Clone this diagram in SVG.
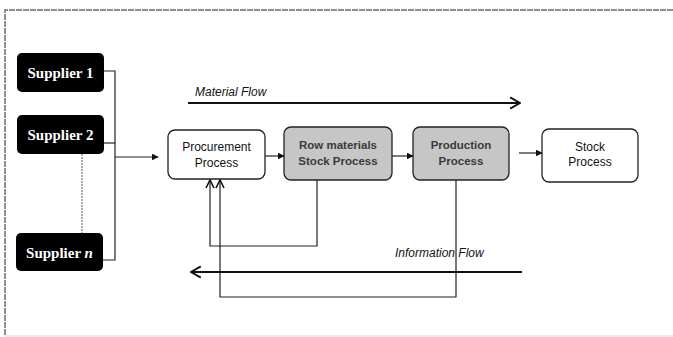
<svg xmlns="http://www.w3.org/2000/svg" width="673" height="337" viewBox="0 0 673 337">
  <defs>
    <marker id="tri" viewBox="0 0 10 10" refX="9" refY="5" markerWidth="7" markerHeight="7" markerUnits="userSpaceOnUse" orient="auto">
      <path d="M0,0 L10,5 L0,10 z" fill="#111"/>
    </marker>
    <marker id="open" viewBox="0 0 10 10" refX="9" refY="5" markerWidth="10" markerHeight="10" markerUnits="userSpaceOnUse" orient="auto">
      <path d="M1,1 L9,5 L1,9" fill="none" stroke="#111" stroke-width="1.6"/>
    </marker>
    <marker id="bigopen" viewBox="0 0 10 10" refX="9" refY="5" markerWidth="14" markerHeight="14" markerUnits="userSpaceOnUse" orient="auto">
      <path d="M2,1 L9,5 L2,9" fill="none" stroke="#111" stroke-width="1.4"/>
    </marker>
  </defs>
  <style>
    .frame { fill: none; stroke: #6a6a6a; stroke-width: 1.5; stroke-dasharray: 6 1; }
    .sup rect { fill: #000; }
    .sup text { font-family: "Liberation Serif", serif; font-weight: bold; font-size: 15px; fill: #fff; text-anchor: middle; }
    .proc rect { stroke: #222; stroke-width: 1.3; }
    .proc text { font-family: "Liberation Sans", Arial, sans-serif; font-size: 12px; fill: #111; text-anchor: middle; }
    .white rect { fill: #fff; }
    .grey rect { fill: #c6c6c6; }
    .grey text { fill: #3a3a3a; font-weight: bold; font-size: 11.5px; }
    .wire { fill: none; stroke: #222; stroke-width: 1.2; }
    .flow { fill: none; stroke: #111; stroke-width: 2; }
    .label { font-family: "Liberation Sans", Arial, sans-serif; font-style: italic; font-size: 12px; fill: #111; }
  </style>

  <rect width="673" height="337" fill="#fff"/>
  <!-- outer frame (top, left, bottom only) -->
  <path class="frame" d="M673,10 H5 V336"/>
  <path d="M5,336 H673" stroke="#d8d8d8" stroke-width="1" fill="none"/>

  <!-- suppliers -->
  <g id="supplier1" class="sup">
    <rect x="17" y="53" width="87" height="39" rx="5"/>
    <text x="60.5" y="78">Supplier 1</text>
  </g>
  <g id="supplier2" class="sup">
    <rect x="17" y="115" width="87" height="39" rx="5"/>
    <text x="60.5" y="140">Supplier 2</text>
  </g>
  <g id="suppliern" class="sup">
    <rect x="16" y="233" width="87" height="38" rx="5"/>
    <text x="59.5" y="258">Supplier <tspan font-style="italic">n</tspan></text>
  </g>

  <!-- process nodes -->
  <g id="procurement" class="proc white">
    <rect x="168" y="130" width="97" height="49" rx="7"/>
    <text x="216.5" y="151">Procurement</text>
    <text x="216.5" y="167">Process</text>
  </g>
  <g id="rowmaterials" class="proc grey">
    <rect x="284" y="127" width="108" height="53" rx="7"/>
    <text x="338" y="149">Row materials</text>
    <text x="338" y="165">Stock Process</text>
  </g>
  <g id="production" class="proc grey">
    <rect x="413" y="127" width="96" height="53" rx="7"/>
    <text x="461" y="149">Production</text>
    <text x="461" y="165">Process</text>
  </g>
  <g id="stock" class="proc white">
    <rect x="542" y="129" width="96" height="53" rx="7"/>
    <text x="590" y="151">Stock</text>
    <text x="590" y="166">Process</text>
  </g>

  <!-- connectors -->
  <g id="connectors">
    <!-- supplier bracket -->
    <path class="wire" d="M104,71 H115 V260 H103"/>
    <path class="wire" d="M104,143 H115"/>
    <path d="M82,154 V233" stroke="#777" stroke-width="1.2" stroke-dasharray="2 1" fill="none"/>
    <path class="wire" d="M115,157 H158" marker-end="url(#tri)"/>

    <!-- material chain -->
    <path class="wire" d="M265,156 H284" marker-end="url(#tri)"/>
    <path class="wire" d="M392,156 H413" marker-end="url(#tri)"/>
    <path class="wire" d="M519,153 H542" marker-end="url(#tri)"/>

    <!-- feedback loops to procurement -->
    <path class="wire" d="M317,180 V246 H210 V180" marker-end="url(#open)"/>
    <path class="wire" d="M456,180 V297 H220 V180" marker-end="url(#open)"/>

    <!-- material and information flow arrows -->
    <path class="flow" d="M188,103 H520" marker-end="url(#bigopen)"/>
    <path class="flow" d="M522,272 H191" marker-end="url(#bigopen)"/>
  </g>

  <text class="label" x="195" y="96">Material Flow</text>
  <text class="label" x="395" y="257">Information Flow</text>
</svg>
